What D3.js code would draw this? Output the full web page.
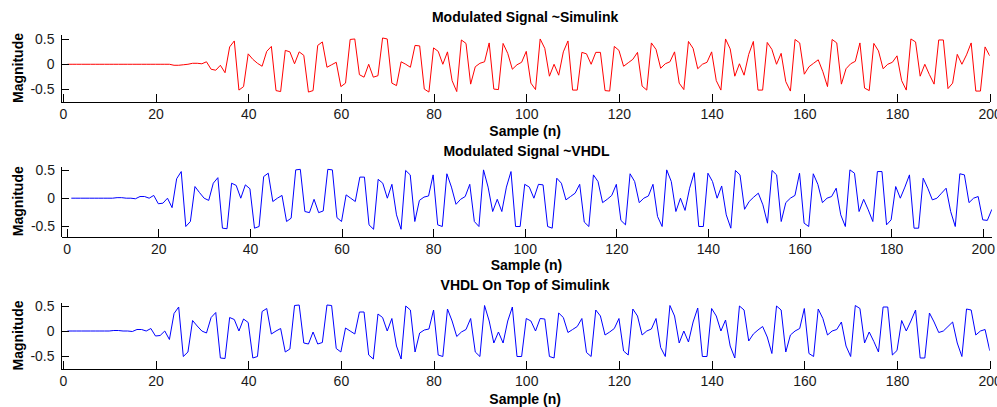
<!DOCTYPE html>
<html>
<head>
<meta charset="utf-8">
<script src="https://cdn.jsdelivr.net/npm/d3@7"></script>
<style>
  html, body { margin: 0; padding: 0; background: #fff; }
  svg { display: block; }
  text { font-family: "Liberation Sans", Arial, Helvetica, sans-serif; }
</style>
</head>
<body>
<svg id="chart" width="997" height="407"></svg>
<script>
// ---------------- data ----------------
const titles = ["Modulated Signal ~Simulink", "Modulated Signal ~VHDL", "VHDL On Top of Simulink"];
const xLabel = "Sample (n)";
const yLabel = "Magnitude";
const xTicks = [0, 20, 40, 60, 80, 100, 120, 140, 160, 180, 200];
const yTicks = [-0.5, 0, 0.5];
const yTickLabels = ["-0.5", "0", "0.5"];

// Simulink modulated signal, samples n = 1..200
const simulink = [
  0,0,0,0,0,0,0,0,0,0, 0,0,0,0,0,0,0,0,0,0, 0,0,0,
  -0.02,-0.02,-0.01,0.0,0.02,0.02,0.01,0.05,-0.10,-0.12,-0.02,-0.17,
  0.35,0.47,-0.52,-0.45,0.21,0.10,0.02,-0.04,0.26,0.36,
  -0.53,-0.55,0.28,0.25,0.01,0.25,0.18,-0.56,-0.53,0.38,
  0.45,-0.06,-0.01,0.04,-0.45,-0.38,0.50,0.51,-0.21,-0.26,
  0.0,-0.26,-0.23,0.53,0.51,-0.38,-0.43,0.05,0.0,-0.06,
  0.38,0.37,-0.50,-0.56,0.33,0.26,0.0,0.25,-0.33,-0.55,
  0.49,0.42,-0.40,-0.05,0.02,0.05,0.43,-0.50,-0.51,0.42,
  0.22,-0.10,-0.01,0.04,0.26,-0.38,-0.51,0.51,0.32,-0.24,
  0.0,-0.22,0.25,0.47,-0.52,-0.52,0.24,0.21,0.0,0.24,
  0.24,-0.53,-0.54,0.36,0.28,-0.04,0.03,0.10,0.24,-0.44,
  -0.52,0.43,0.30,-0.08,0.01,0.05,0.25,-0.38,-0.51,0.46,
  0.32,-0.09,0.0,0.04,0.25,-0.33,-0.52,0.51,0.31,-0.24,
  0.01,-0.22,0.20,0.46,-0.52,-0.52,0.44,0.30,0.0,0.22,
  -0.35,-0.54,0.50,0.43,-0.20,-0.05,0.02,0.09,-0.15,-0.45,
  0.50,0.43,-0.40,-0.09,0.01,0.06,0.43,-0.48,-0.53,0.42,
  0.27,-0.09,0.0,0.04,0.17,-0.33,-0.52,0.51,0.45,-0.24,
  0.0,-0.21,-0.40,0.49,0.49,-0.49,-0.38,0.20,0.0,0.19,
  0.43,-0.54,-0.54,0.35,0.17
];

// VHDL modulated signal, samples n = 1..202
const vhdl = [
  0,0,0,0,0,0,0,0,0,0,
  0.01,0.01,0.0,0.0,-0.01,0.03,0.03,0.0,0.05,-0.10,
  -0.09,0.0,-0.17,0.35,0.48,-0.51,-0.42,0.21,0.10,0.0,
  -0.04,0.27,0.37,-0.54,-0.55,0.27,0.23,0.0,0.24,0.17,
  -0.54,-0.51,0.39,0.45,-0.06,0.0,0.05,-0.42,-0.36,0.51,
  0.52,-0.24,-0.26,-0.02,-0.26,-0.23,0.52,0.51,-0.35,-0.42,
  0.06,0.0,-0.06,0.38,0.38,-0.48,-0.56,0.34,0.27,0.0,
  0.25,-0.30,-0.56,0.50,0.42,-0.42,-0.04,0.02,0.04,0.42,
  -0.48,-0.51,0.44,0.20,-0.11,-0.02,0.03,0.25,-0.42,-0.51,
  0.51,0.20,-0.24,-0.02,-0.24,0.20,0.48,-0.51,-0.51,0.25,
  0.20,0.0,0.25,0.24,-0.51,-0.54,0.36,0.27,-0.03,0.03,
  0.09,0.25,-0.43,-0.51,0.42,0.30,-0.08,-0.02,0.05,0.25,
  -0.40,-0.48,0.44,0.30,-0.08,0.0,0.04,0.25,-0.33,-0.51,
  0.51,0.30,-0.24,0.0,-0.22,0.18,0.46,-0.51,-0.51,0.45,
  0.30,0.0,0.22,-0.30,-0.54,0.50,0.42,-0.20,-0.06,0.02,
  0.09,-0.12,-0.45,0.50,0.42,-0.42,-0.08,0.0,0.05,0.45,
  -0.45,-0.51,0.44,0.25,-0.08,0.0,0.03,0.18,-0.30,-0.51,
  0.51,0.45,-0.24,-0.02,-0.21,-0.42,0.48,0.48,-0.48,-0.39,
  0.21,0.0,0.20,0.42,-0.54,-0.54,0.36,0.18,-0.03,0.0,
  0.09,0.18,-0.24,-0.51,0.44,0.42,-0.08,0.0,0.03,-0.39,
  -0.40,-0.20
];

// ---------------- layout ----------------
const panels = [
  { title: titles[0], series: simulink, color: "#ff0000",
    xDom: [-0.5, 200], xRange: [60.5, 989.7], yDom: [-0.75, 0.6], yRange: [101.5, 34.5],
    titleY: 22, xlabY: 136 },
  { title: titles[1], series: vhdl, color: "#0000ff",
    xDom: [-1.25, 202], xRange: [61, 991.9], yDom: [-0.69, 0.58], yRange: [236.5, 166],
    titleY: 156, xlabY: 270 },
  { title: titles[2], series: vhdl, color: "#0000ff",
    xDom: [-0.5, 200], xRange: [60.5, 989.7], yDom: [-0.76, 0.58], yRange: [369, 302],
    titleY: 290, xlabY: 404 }
];

const svg = d3.select("#chart");
const FS = 14;

panels.forEach((p, k) => {
  const x = d3.scaleLinear().domain(p.xDom).range(p.xRange);
  const y = d3.scaleLinear().domain(p.yDom).range(p.yRange);
  const g = svg.append("g");

  const clipId = "clip" + k;
  svg.append("clipPath").attr("id", clipId)
    .append("rect")
    .attr("x", p.xRange[0]).attr("y", p.yRange[1])
    .attr("width", p.xRange[1] - p.xRange[0])
    .attr("height", p.yRange[0] - p.yRange[1]);

  const line = d3.line().x((d, i) => x(i + 1)).y(d => y(d));
  g.append("path")
    .datum(p.series)
    .attr("clip-path", `url(#${clipId})`)
    .attr("fill", "none")
    .attr("stroke", p.color)
    .attr("stroke-width", 1)
    .attr("stroke-linejoin", "round")
    .attr("d", line);

  // x axis (ticks inward)
  const xa = g.append("g")
    .attr("transform", `translate(0,${p.yRange[0]})`)
    .call(d3.axisBottom(x).tickValues(xTicks).tickFormat(d3.format("d"))
      .tickSizeInner(-8).tickSizeOuter(0).tickPadding(7.5));
  // y axis (ticks inward)
  const ya = g.append("g")
    .attr("transform", `translate(${p.xRange[0]},0)`)
    .call(d3.axisLeft(y).tickValues(yTicks).tickFormat((d, i) => yTickLabels[i])
      .tickSizeInner(-8).tickSizeOuter(0).tickPadding(6));
  [xa, ya].forEach(a => {
    a.selectAll("path.domain").attr("stroke", "#000").attr("shape-rendering", "crispEdges");
    a.selectAll(".tick line").attr("stroke", "#000").attr("shape-rendering", "crispEdges");
    a.selectAll("text").attr("fill", "#1a1a1a")
      .style("font-family", '"Liberation Sans", Arial, sans-serif')
      .style("font-size", FS + "px");
  });

  const cx = (p.xRange[0] + p.xRange[1]) / 2;
  g.append("text")
    .attr("x", cx).attr("y", p.titleY)
    .attr("text-anchor", "middle")
    .attr("font-weight", "bold").attr("font-size", FS)
    .attr("fill", "#000")
    .text(p.title);
  g.append("text")
    .attr("x", cx).attr("y", p.xlabY)
    .attr("text-anchor", "middle")
    .attr("font-weight", "bold").attr("font-size", FS)
    .attr("fill", "#000")
    .text(xLabel);
  const cy = (p.yRange[0] + p.yRange[1]) / 2;
  g.append("text")
    .attr("transform", `translate(22.5,${cy}) rotate(-90)`)
    .attr("text-anchor", "middle")
    .attr("font-weight", "bold").attr("font-size", FS)
    .attr("fill", "#000")
    .text(yLabel);
});
</script>
</body>
</html>
